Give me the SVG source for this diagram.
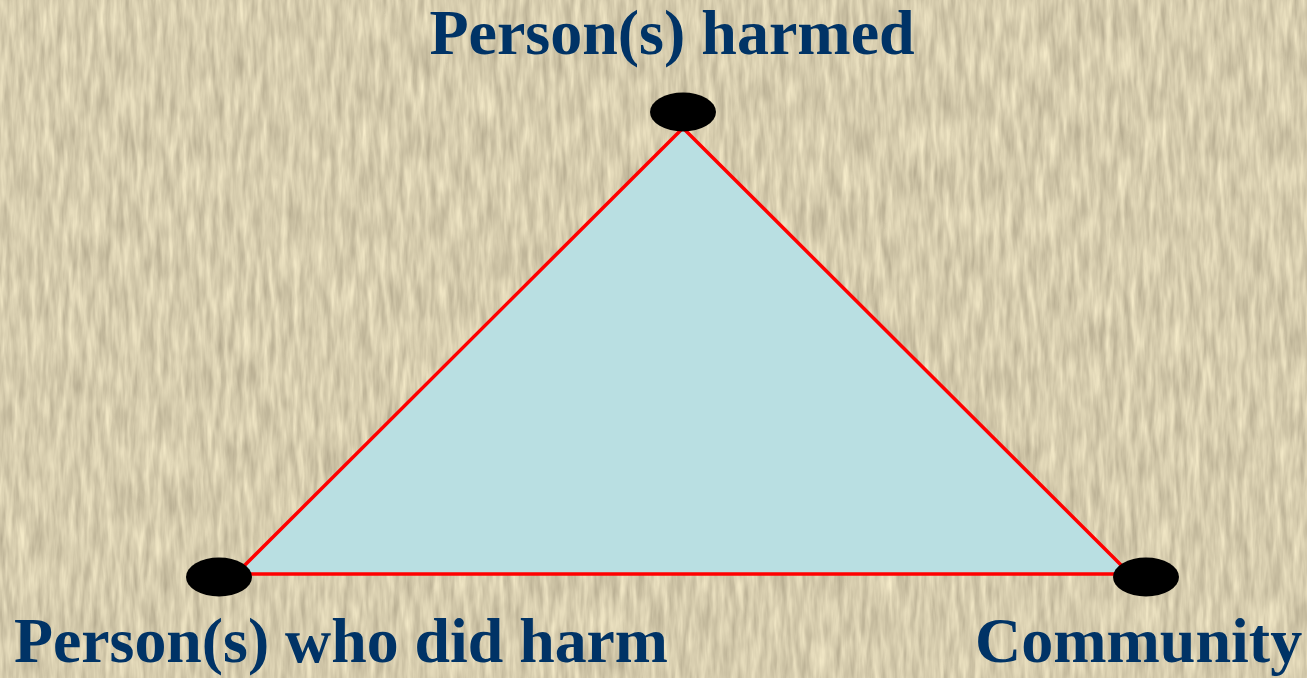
<svg xmlns="http://www.w3.org/2000/svg" width="1307" height="678" viewBox="0 0 1307 678">
  <style>
    .lbl { font-family: "Liberation Serif", "Times New Roman", serif; font-weight: bold; font-size: 64px; fill: #003366; }
    .dot { fill: #000000; }
    .edge { stroke: #ff0000; stroke-width: 3.5; fill: none; stroke-linecap: round; }
  </style>
  <defs>
    <filter id="paper" x="0" y="0" width="1307" height="678" filterUnits="userSpaceOnUse" color-interpolation-filters="sRGB">
      <feTurbulence type="fractalNoise" baseFrequency="0.16 0.025" numOctaves="3" seed="7" result="n"/>
      <feColorMatrix in="n" type="matrix" values="0.3 0 0 0 0.69  0.3 0 0 0 0.65  0.27 0 0 0 0.545  0 0 0 0 1"/>
    </filter>
  </defs>
  <rect id="background" x="0" y="0" width="1307" height="678" fill="#d6cbab"/>
  <rect x="0" y="0" width="1307" height="678" filter="url(#paper)"/>
  <polygon id="triangle-fill" points="683,128 236,574 1130,574" fill="#b9dfe2"/>
  <g id="connectors">
    <line class="edge" x1="683" y1="128" x2="236" y2="574"/>
    <line class="edge" x1="683" y1="128" x2="1130" y2="574"/>
    <line class="edge" x1="236" y1="574" x2="1130" y2="574"/>
  </g>
  <g id="node-harmed">
    <ellipse class="dot" cx="683" cy="112" rx="33" ry="19.5"/>
    <text class="lbl" x="672" y="54" text-anchor="middle">Person(s) harmed</text>
  </g>
  <g id="node-did-harm">
    <ellipse class="dot" cx="219" cy="577" rx="33" ry="19.5"/>
    <text class="lbl" x="14" y="662" textLength="654" lengthAdjust="spacingAndGlyphs">Person(s) who did harm</text>
  </g>
  <g id="node-community">
    <ellipse class="dot" cx="1146" cy="577" rx="33" ry="19.5"/>
    <text class="lbl" x="975" y="662">Community</text>
  </g>
</svg>
